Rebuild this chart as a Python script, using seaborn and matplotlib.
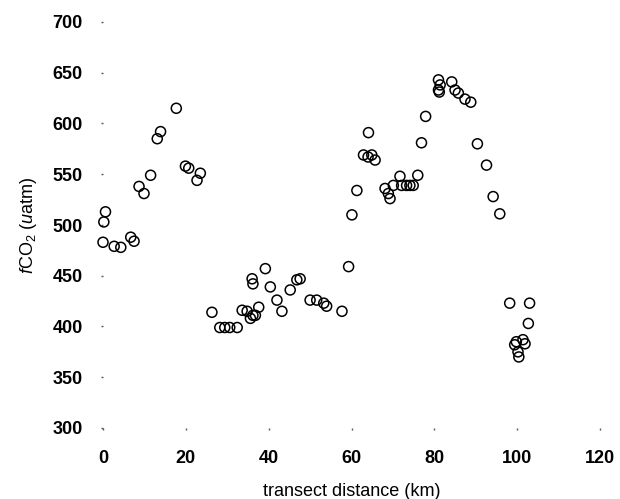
import matplotlib
matplotlib.use("Agg")
import matplotlib.pyplot as plt
import seaborn as sns
import pandas as pd

# Transect distance (km) and fCO2 (uatm) along the cruise track
distance_km = [
    0.0, 0.2, 0.6, 2.7, 4.3, 6.7, 7.5, 8.7, 9.9, 11.5, 13.1, 13.9, 17.7,
    19.9, 20.7, 22.7, 23.5,
    26.3, 28.2, 29.4, 30.6, 32.4, 33.6, 34.8, 35.6, 36.2, 36.8, 37.6,
    36.0, 36.2, 39.2, 40.4, 42.0, 43.2, 45.2, 46.8, 47.6, 50.0, 51.6,
    53.3, 54.0, 57.7, 59.3,
    60.1, 61.3, 62.9, 64.1, 64.9, 65.7, 64.0, 68.1, 68.9, 69.3, 70.1,
    71.7, 72.1, 73.3, 74.1, 74.9, 76.0, 76.9, 77.9, 81.0, 81.4, 81.0,
    81.2, 84.2, 85.0, 85.8, 87.4, 88.8, 90.4, 92.6, 94.2, 95.8,
    98.2, 99.4, 99.8, 100.2, 100.4, 101.4, 101.9, 102.7, 103.0,
]
fco2_uatm = [
    483, 503, 513, 479, 478, 488, 484, 538, 531, 549, 585, 592, 615,
    558, 556, 544, 551,
    414, 399, 399, 399, 399, 416, 415, 408, 411, 411, 419,
    447, 442, 457, 439, 426, 415, 436, 446, 447, 426, 426,
    423, 420, 415, 459,
    510, 534, 569, 591, 569, 564, 567, 536, 531, 526, 539,
    548, 539, 539, 539, 539, 549, 581, 607, 643, 638, 633,
    631, 641, 633, 630, 624, 621, 580, 559, 528, 511,
    423, 382, 385, 375, 370, 387, 383, 403, 423,
]
x_ticks = [0, 20, 40, 60, 80, 100, 120]
y_ticks = [300, 350, 400, 450, 500, 550, 600, 650, 700]

df = pd.DataFrame({"distance": distance_km, "fco2": fco2_uatm})

sns.set_style("white")
plt.rcParams["font.family"] = ["Liberation Sans", "DejaVu Sans"]
plt.rcParams["mathtext.fontset"] = "custom"
plt.rcParams["mathtext.rm"] = "Liberation Sans"
plt.rcParams["mathtext.it"] = "Liberation Sans:italic"
plt.rcParams["text.color"] = "black"
plt.rcParams["axes.labelcolor"] = "black"
plt.rcParams["xtick.color"] = "black"
plt.rcParams["ytick.color"] = "black"

fig = plt.figure(figsize=(6.2, 4.99), dpi=100)
ax = fig.add_axes([103 / 620, 71 / 499, 497 / 620, 406 / 499])

sns.scatterplot(
    data=df, x="distance", y="fco2", ax=ax,
    marker="o", s=52, facecolors="none", edgecolor="black",
    linewidth=1.1, legend=False, clip_on=False,
)

ax.set_xlim(0, 120)
ax.set_ylim(300, 700)
ax.set_xticks(x_ticks)
ax.set_yticks(y_ticks)
ax.set_xticklabels([str(t) for t in x_ticks], fontsize=13, fontweight="bold")
ax.set_yticklabels([str(t) for t in y_ticks], fontsize=13, fontweight="bold")
ax.tick_params(axis="both", direction="out", length=1.5, width=1.0,
               color="#555555", labelcolor="black", left=True, bottom=True)
ax.tick_params(axis="y", pad=13)
ax.tick_params(axis="x", pad=14)

for side in ["left", "right", "top", "bottom"]:
    ax.spines[side].set_visible(False)

ax.set_xlabel("transect distance (km)", fontsize=13, labelpad=12, color="black")
ax.set_ylabel(r"$\mathit{f}$CO$_2$ ($\mathit{u}$atm)", fontsize=13, labelpad=10,
              color="black")

fig.savefig("out.png", dpi=100)
